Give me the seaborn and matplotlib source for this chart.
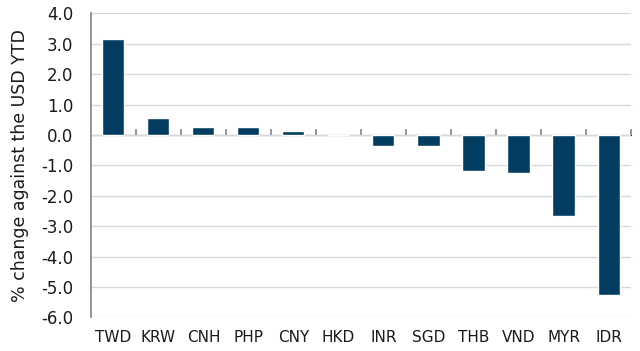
import numpy as np
import pandas as pd
import matplotlib
matplotlib.use("Agg")
import matplotlib.pyplot as plt
import seaborn as sns

currencies = ["TWD", "KRW", "CNH", "PHP", "CNY", "HKD", "INR", "SGD", "THB", "VND", "MYR", "IDR"]
ytd_change = [3.15, 0.57, 0.26, 0.26, 0.12, 0.0, -0.38, -0.38, -1.19, -1.26, -2.66, -5.25]
y_ticks = np.arange(-6, 4.1, 1)

df = pd.DataFrame({"Currency": currencies, "Change": ytd_change})

sns.set_style("white")
plt.rcParams["font.family"] = ["DejaVu Sans"]

fig, ax = plt.subplots(figsize=(6.4, 3.51), dpi=100)
fig.subplots_adjust(left=0.142, right=0.986, top=0.962, bottom=0.096)

sns.barplot(data=df, x="Currency", y="Change", color="#033E62", width=0.49,
            saturation=1, ax=ax, zorder=3)

ax.set_xlim(-0.5, len(currencies) - 0.5)
ax.set_ylim(-6, 4)
ax.set_yticks(y_ticks)
ax.set_yticklabels([f"{v:.1f}" for v in y_ticks])
ax.yaxis.grid(True, color="#D5D9DE", linewidth=1.0, zorder=0)
ax.set_axisbelow(True)

for s in ["top", "right", "bottom"]:
    ax.spines[s].set_visible(False)
ax.spines["left"].set_color("#8C8C8C")
ax.spines["left"].set_linewidth(1.3)
ax.tick_params(axis="y", direction="out", length=4.5, width=1.3, color="#8C8C8C",
               labelsize=12, labelcolor="#1A1A1A", pad=8)
ax.tick_params(axis="x", length=0, labelsize=11, labelcolor="#1A1A1A", pad=9)

# zero line with boundary ticks
zero = ax.secondary_xaxis(0.6)
zero.set_xticks(np.arange(0.5, len(currencies), 1))
zero.set_xticklabels([])
zero.spines["bottom"].set_color("#8C8C8C")
zero.spines["bottom"].set_linewidth(1.3)
zero.tick_params(axis="x", direction="out", length=4, width=1.3, color="#8C8C8C")

ax.set_xlabel("")
ax.set_ylabel("% change against the USD YTD", fontsize=12.5, color="#1A1A1A", labelpad=9)

fig.savefig("out.png", dpi=100)
